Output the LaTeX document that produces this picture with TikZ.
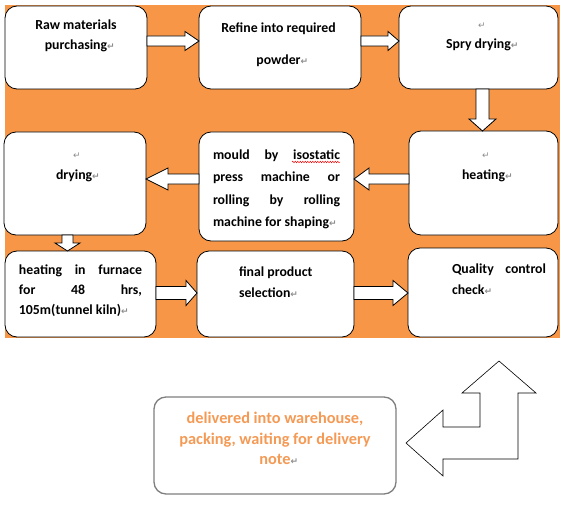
\documentclass[tikz,border=0pt]{standalone}
\usepackage{fontspec}
\setmainfont{Carlito}
\newfontfamily\symfont{DejaVu Sans}
\usetikzlibrary{calc,decorations.pathmorphing}
\definecolor{bgorange}{HTML}{F79646}
\definecolor{pmgrey}{HTML}{8C8C8C}
\definecolor{boxgrey}{HTML}{7F7F7F}
\definecolor{txtorange}{HTML}{F59A55}
\newcommand\pmk{{\symfont\fontsize{9}{9}\selectfont\color{pmgrey}↵}}
% right / left / down block arrows: from, to, level coordinate, shaft half, head half, head length
\newcommand\rarrow[6]{\draw[blockarrow] let \p1=(#1 |- #3), \p2=(#2 |- #3) in
  (\x1,\y1+#4pt) -- (\x2-#6pt,\y1+#4pt) -- (\x2-#6pt,\y1+#5pt) -- (\x2,\y1) --
  (\x2-#6pt,\y1-#5pt) -- (\x2-#6pt,\y1-#4pt) -- (\x1,\y1-#4pt) -- cycle;}
\newcommand\larrow[6]{\draw[blockarrow] let \p1=(#1 |- #3), \p2=(#2 |- #3) in
  (\x1,\y1+#4pt) -- (\x2+#6pt,\y1+#4pt) -- (\x2+#6pt,\y1+#5pt) -- (\x2,\y1) --
  (\x2+#6pt,\y1-#5pt) -- (\x2+#6pt,\y1-#4pt) -- (\x1,\y1-#4pt) -- cycle;}
\newcommand\darrow[6]{\draw[blockarrow] let \p1=(#3 |- #1), \p2=(#3 |- #2) in
  (\x1-#4pt,\y1) -- (\x1-#4pt,\y2+#6pt) -- (\x1-#5pt,\y2+#6pt) -- (\x1,\y2) --
  (\x1+#5pt,\y2+#6pt) -- (\x1+#4pt,\y2+#6pt) -- (\x1+#4pt,\y1) -- cycle;}
\begin{document}
\begin{tikzpicture}[x=1pt,y=-1pt,
  procbox/.style={draw=black, line width=0.8pt, fill=white, rounded corners=12pt,
    inner sep=0pt, outer sep=0pt},
  blockarrow/.style={draw=black, line width=0.8pt, fill=white, line join=miter},
  txt/.style={inner sep=0pt, outer sep=0pt, font=\fontsize{13.8}{16}\selectfont\bfseries},
  bigtxt/.style={inner sep=0pt, outer sep=0pt, text=txtorange, font=\fontsize{16.3}{18}\selectfont\bfseries},
  pmnode/.style={inner sep=0pt, outer sep=0pt, font=\symfont\fontsize{9}{9}\selectfont, text=pmgrey}]
\useasboundingbox (0,0) rectangle (562,508);
\fill[white] (0,0) rectangle (562,508);
\fill[bgorange] (5,5) rectangle (560,338);

% boxes
\node[procbox, minimum width=142pt, minimum height=83pt] (b1) at (76,47.5) {};
\node[procbox, minimum width=162pt, minimum height=83pt] (b2) at (280,47.5) {};
\node[procbox, minimum width=159pt, minimum height=83pt] (b3) at (478.5,47.5) {};
\node[procbox, minimum width=142pt, minimum height=103pt] (b4) at (75,183.5) {};
\node[procbox, minimum width=155pt, minimum height=109pt] (b5) at (276.5,186.5) {};
\node[procbox, minimum width=149pt, minimum height=104pt] (b6) at (483.5,183) {};
\node[procbox, minimum width=151pt, minimum height=86pt] (b7) at (80.5,294) {};
\node[procbox, minimum width=157pt, minimum height=86pt] (b8) at (275.5,294) {};
\node[procbox, minimum width=150pt, minimum height=89pt] (b9) at (483,292.5) {};
\node[procbox, draw=boxgrey, line width=1.3pt, minimum width=242pt, minimum height=97pt] (b10) at (275,445.5) {};

% levels for arrows
\coordinate (yr1) at (0,41);
\coordinate (yr2) at (0,179);
\coordinate (yr3) at (0,293);
\coordinate (xc1) at (482.5,0);
\coordinate (xc2) at (67.5,0);

\rarrow{b1.east}{b2.west}{yr1}{5}{9.5}{14}
\rarrow{b2.east}{b3.west}{yr1}{5}{9.5}{11}
\darrow{b3.south}{b6.north}{xc1}{6.5}{13.5}{12}
\larrow{b6.west}{b5.east}{yr2}{5}{11}{15}
\larrow{b5.west}{b4.east}{yr2}{5}{11}{22}
\darrow{b4.south}{b7.north}{xc2}{5.5}{12.5}{8}
\rarrow{b7.east}{b8.west}{yr3}{6.5}{12.5}{11}
\rarrow{b8.east}{b9.west}{yr3}{6.5}{12.5}{15}

% bent arrow
\draw[blockarrow, line width=0.6pt] (406,443) -- (443,410) -- (443,427) -- (480,427) -- (480,393)
  -- (462,393) -- (499,361) -- (536,393) -- (518,393) -- (518,459) -- (443,459) -- (443,476) -- cycle;

% texts
\node[txt, anchor=base] (t1a) at (76,30) {Raw materials};
\node[txt, anchor=base] (t1b) at (76,50) {purchasing\rlap{\pmk}};
\node[txt, anchor=base] (t2a) at (278.5,33) {Refine into required};
\node[txt, anchor=base] (t2b) at (278.5,65) {powder\rlap{\pmk}};
\node[pmnode, anchor=base] (t3a) at (482,29) {↵};
\node[txt, anchor=base] (t3b) at (478.5,49) {Spry drying\rlap{\pmk}};
\node[pmnode, anchor=base] (t4a) at (77,158) {↵};
\node[txt, anchor=base west] (t4b) at (56,179) {drying\pmk};
\node[txt, anchor=base west] (t5a) at (213,159) {\makebox[127pt][s]{mould by isostatic}};
\node[txt, anchor=base west] (t5b) at (213,181.5) {\makebox[127pt][s]{press machine or}};
\node[txt, anchor=base west] (t5c) at (213,204) {\makebox[127pt][s]{rolling by rolling}};
\node[txt, anchor=base west] (t5d) at (213,226) {machine for shaping\pmk};
\draw[red, line width=0.4pt, decorate, decoration={snake, amplitude=0.8pt, segment length=2.5pt}]
  ($(t5a.base east)+(-48,3)$) -- ($(t5a.base east)+(0,3)$);
\node[pmnode, anchor=base] (t6a) at (486,158) {↵};
\node[txt, anchor=base west] (t6b) at (462,179) {heating\pmk};
\node[txt, anchor=base west] (t7a) at (19,274) {\makebox[123pt][s]{heating in furnace}};
\node[txt, anchor=base west] (t7b) at (19,294) {\makebox[123pt][s]{for 48 hrs,}};
\node[txt, anchor=base west] (t7c) at (19,314) {105m(tunnel kiln)\pmk};
\node[txt, anchor=base west] (t8a) at (239,276) {final product};
\node[txt, anchor=base west] (t8b) at (239,297) {selection\pmk};
\node[txt, anchor=base west] (t9a) at (452,273) {\makebox[94pt][s]{Quality control}};
\node[txt, anchor=base west] (t9b) at (452,294) {check\pmk};
\node[bigtxt, anchor=base] (t10a) at (275,423) {delivered into warehouse,};
\node[bigtxt, anchor=base] (t10b) at (275,444) {packing, waiting for delivery};
\node[bigtxt, anchor=base] (t10c) at (275,464) {note\rlap{\pmk}};
\end{tikzpicture}
\end{document}
